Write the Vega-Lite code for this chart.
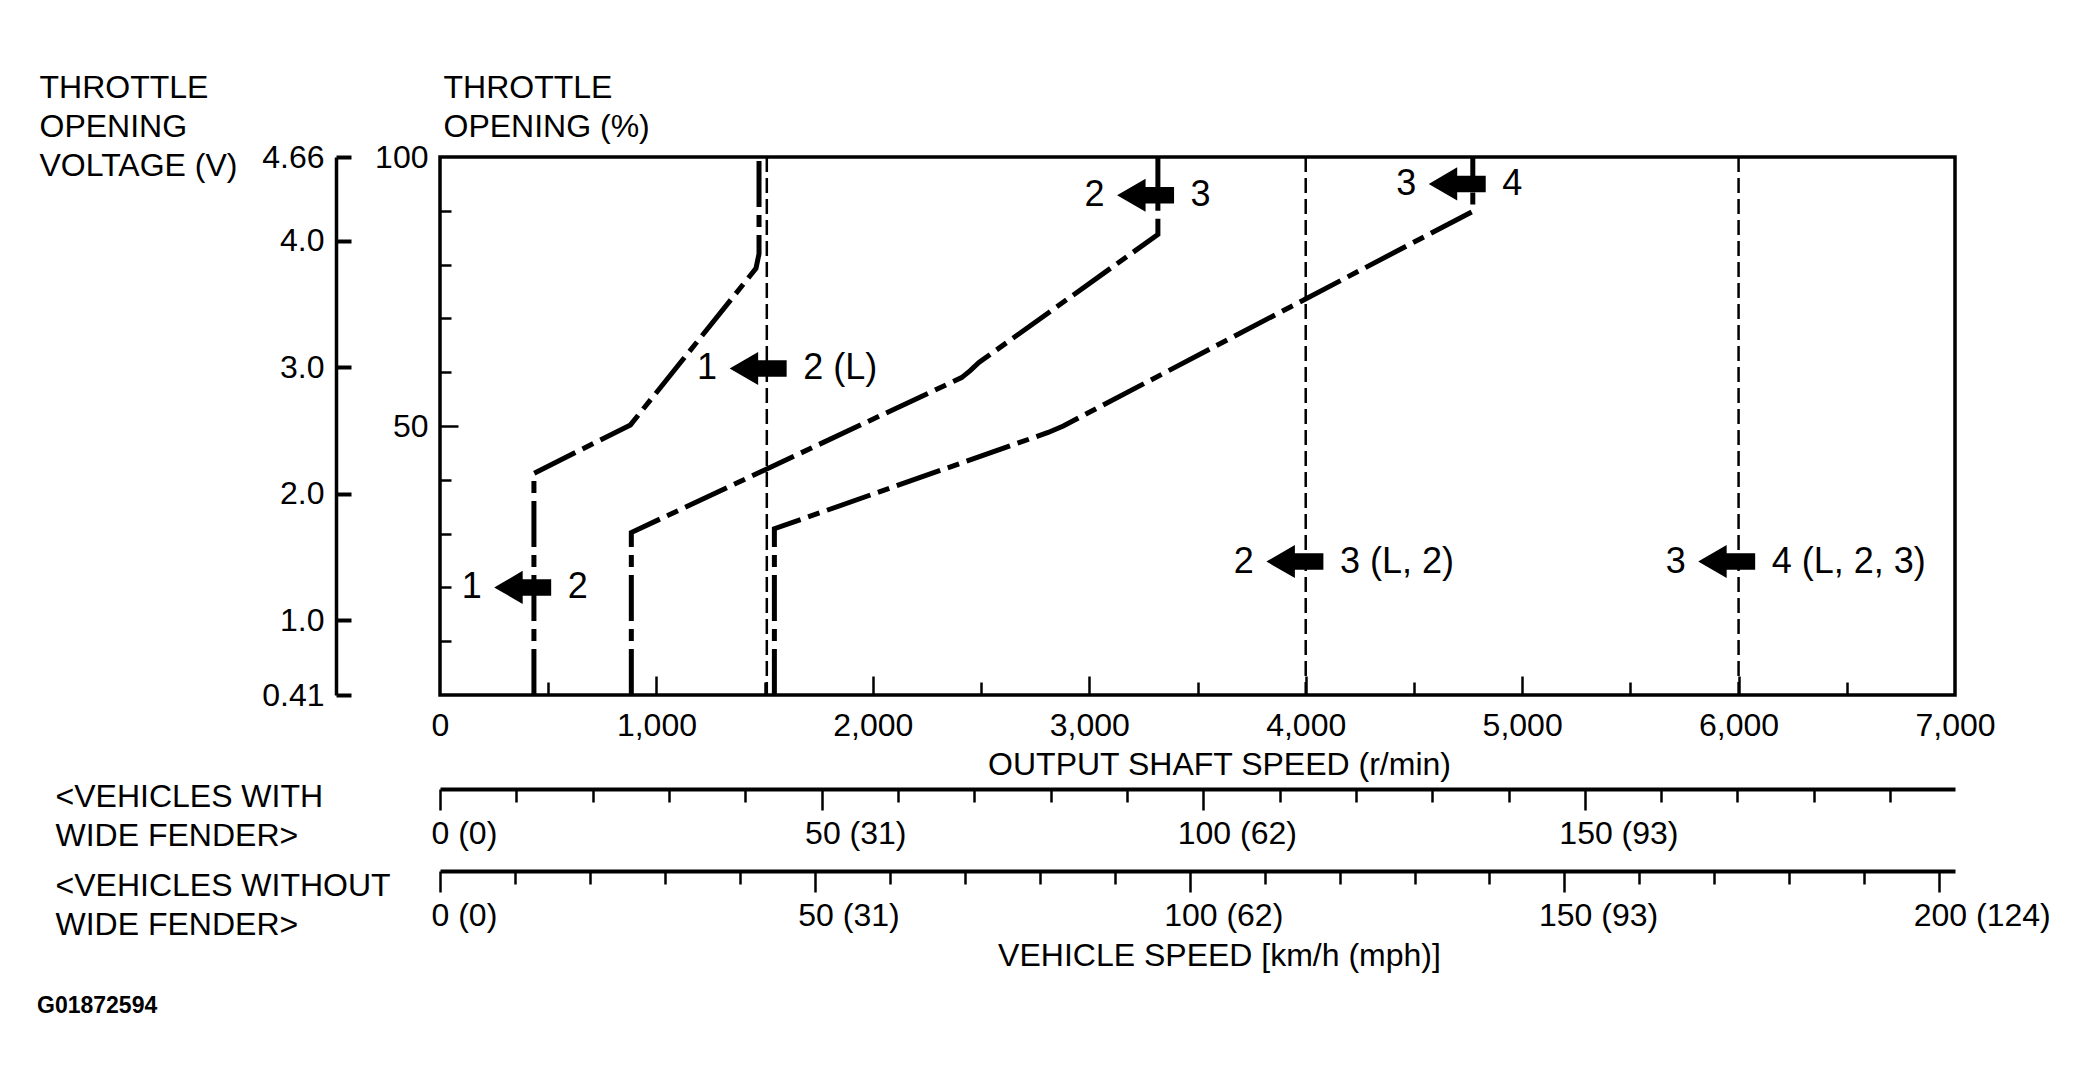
{
  "$schema": "https://vega.github.io/schema/vega-lite/v6.json",
  "width": 1515,
  "height": 538,
  "autosize": {"type": "none"},
  "padding": {"left": 440, "top": 157, "right": 130, "bottom": 397},
  "background": "white",
  "config": {
    "view": {"stroke": "black", "strokeWidth": 3.5},
    "font": "Liberation Sans",
    "axis": {"labelFont": "Liberation Sans", "titleFont": "Liberation Sans", "labelFontSize": 32, "titleFontSize": 32, "labelColor": "black", "titleColor": "black", "tickColor": "black", "domainColor": "black", "titleFontWeight": "normal", "grid": false, "labelFlush": false, "labelOverlap": false},
    "text": {"font": "Liberation Sans", "fontSize": 32, "color": "black"}
  },
  "title": {"text": "G01872594", "orient": "bottom", "anchor": "start", "frame": "group", "dx": -403, "offset": 24, "fontSize": 23, "fontWeight": "bold", "font": "Liberation Sans", "color": "black", "baseline": "top"},
  "datasets": {
    "shift_lines": [
      {"shift": "1-2", "seq": 1, "rpm": 434, "pct": 0},
      {"shift": "1-2", "seq": 2, "rpm": 434, "pct": 41.2},
      {"shift": "1-2", "seq": 3, "rpm": 880, "pct": 50.2},
      {"shift": "1-2", "seq": 4, "rpm": 1460, "pct": 79.3},
      {"shift": "1-2", "seq": 5, "rpm": 1474, "pct": 82},
      {"shift": "1-2", "seq": 6, "rpm": 1474, "pct": 100},
      {"shift": "2-3", "seq": 1, "rpm": 884, "pct": 0},
      {"shift": "2-3", "seq": 2, "rpm": 884, "pct": 30.2},
      {"shift": "2-3", "seq": 3, "rpm": 2410, "pct": 59},
      {"shift": "2-3", "seq": 4, "rpm": 2450, "pct": 60.3},
      {"shift": "2-3", "seq": 5, "rpm": 2490, "pct": 61.8},
      {"shift": "2-3", "seq": 6, "rpm": 3317, "pct": 85.6},
      {"shift": "2-3", "seq": 7, "rpm": 3317, "pct": 100},
      {"shift": "3-4", "seq": 1, "rpm": 1545, "pct": 0},
      {"shift": "3-4", "seq": 2, "rpm": 1545, "pct": 30.9},
      {"shift": "3-4", "seq": 3, "rpm": 2810, "pct": 48.8},
      {"shift": "3-4", "seq": 4, "rpm": 2880, "pct": 50},
      {"shift": "3-4", "seq": 5, "rpm": 2950, "pct": 51.5},
      {"shift": "3-4", "seq": 6, "rpm": 4772, "pct": 89.9},
      {"shift": "3-4", "seq": 7, "rpm": 4772, "pct": 100}
    ],
    "shift_marks": [
      {"lower": "1", "upper": "2", "rpm": 382, "pct": 20},
      {"lower": "1", "upper": "2 (L)", "rpm": 1470, "pct": 60.7},
      {"lower": "2", "upper": "3", "rpm": 3260, "pct": 92.9},
      {"lower": "3", "upper": "4", "rpm": 4700, "pct": 95},
      {"lower": "2", "upper": "3 (L, 2)", "rpm": 3950, "pct": 24.8},
      {"lower": "3", "upper": "4 (L, 2, 3)", "rpm": 5945, "pct": 24.8}
    ],
    "fixed_shift_speeds": [
      {"shift": "1-2 (L)", "rpm": 1510},
      {"shift": "2-3 (L, 2)", "rpm": 4000},
      {"shift": "3-4 (L, 2, 3)", "rpm": 6000}
    ],
    "throttle_sensor": [
      {"pct": 0, "volt": 0.41},
      {"pct": 100, "volt": 4.66}
    ],
    "vehicle_speed": [
      {"rpm": 0, "kmh_wide": 0, "kmh_std": 0},
      {"rpm": 7000, "kmh_wide": 198.5, "kmh_std": 202.1}
    ]
  },
  "layer": [
    {
      "data": {"name": "fixed_shift_speeds"},
      "mark": {"type": "rule", "stroke": "black", "strokeWidth": 2.5, "strokeDash": [15, 6]},
      "encoding": {
        "x": {"field": "rpm", "type": "quantitative", "scale": {"domain": [0, 7000], "nice": false}, "axis": null}
      }
    },
    {
      "data": {"name": "shift_lines"},
      "mark": {"type": "line", "stroke": "black", "strokeWidth": 5, "strokeDash": [46, 8, 12, 8]},
      "encoding": {
        "x": {"field": "rpm", "type": "quantitative", "scale": {"domain": [0, 7000], "nice": false},
          "axis": {"orient": "bottom", "values": [500, 1000, 1500, 2000, 2500, 3000, 3500, 4000, 4500, 5000, 5500, 6000, 6500], "labels": false, "domain": false, "title": null, "tickWidth": 2.5,
            "tickSize": {"condition": {"test": "datum.value % 1000 === 0", "value": -19}, "value": -13}}},
        "y": {"field": "pct", "type": "quantitative", "scale": {"domain": [0, 100], "nice": false},
          "axis": {"orient": "left", "values": [10, 20, 30, 40, 50, 60, 70, 80, 90], "labels": false, "domain": false, "title": null, "tickWidth": 2.5,
            "tickSize": {"condition": {"test": "datum.value === 50", "value": -18}, "value": -11}}},
        "detail": {"field": "shift", "type": "nominal"},
        "order": {"field": "seq", "type": "quantitative"}
      }
    },
    {
      "data": {"name": "shift_marks"},
      "mark": {"type": "point", "shape": "M-1,0L0,-0.58L0,-0.29L1,-0.29L1,0.29L0,0.29L0,0.58Z", "filled": true, "fill": "black", "strokeWidth": 0, "size": 3249, "opacity": 1},
      "encoding": {
        "x": {"field": "rpm", "type": "quantitative", "scale": {"domain": [0, 7000], "nice": false},
          "axis": {"orient": "bottom", "values": [0, 1000, 2000, 3000, 4000, 5000, 6000, 7000], "format": ",d", "ticks": false, "domain": false, "labelPadding": 15, "labelBaseline": "top",
            "title": "OUTPUT SHAFT SPEED (r/min)", "titleX": 779, "titleY": 79, "titleAlign": "center", "titleBaseline": "alphabetic"}},
        "y": {"field": "pct", "type": "quantitative", "scale": {"domain": [0, 100], "nice": false},
          "axis": {"orient": "left", "values": [50, 100], "ticks": false, "domain": false, "labelPadding": 12,
            "title": ["THROTTLE", "OPENING (%)"], "titleAngle": 0, "titleX": 3, "titleY": -85, "titleAlign": "left", "titleBaseline": "top", "titleLineHeight": 39}}
      }
    },
    {
      "data": {"name": "shift_marks"},
      "mark": {"type": "text", "align": "right", "baseline": "middle", "dx": -41, "fontSize": 36, "font": "Liberation Sans", "color": "black"},
      "encoding": {
        "x": {"field": "rpm", "type": "quantitative", "scale": {"domain": [0, 7000], "nice": false}, "axis": null},
        "y": {"field": "pct", "type": "quantitative", "scale": {"domain": [0, 100], "nice": false}, "axis": null},
        "text": {"field": "lower"}
      }
    },
    {
      "data": {"name": "shift_marks"},
      "mark": {"type": "text", "align": "left", "baseline": "middle", "dx": 45, "fontSize": 36, "font": "Liberation Sans", "color": "black"},
      "encoding": {
        "x": {"field": "rpm", "type": "quantitative", "scale": {"domain": [0, 7000], "nice": false}, "axis": null},
        "y": {"field": "pct", "type": "quantitative", "scale": {"domain": [0, 100], "nice": false}, "axis": null},
        "text": {"field": "upper"}
      }
    },
    {
      "data": {"name": "throttle_sensor"},
      "mark": {"type": "point", "opacity": 0},
      "encoding": {
        "y": {"field": "volt", "type": "quantitative", "scale": {"domain": [0.41, 4.66], "nice": false, "zero": false},
          "axis": {"orient": "left", "offset": 104, "values": [0.41, 1, 2, 3, 4, 4.66], "labels": false, "domain": false, "title": null, "tickSize": -15, "tickWidth": 4}}
      }
    },
    {
      "data": {"name": "throttle_sensor"},
      "mark": {"type": "point", "opacity": 0},
      "encoding": {
        "y": {"field": "volt", "type": "quantitative", "scale": {"domain": [0.41, 4.66], "nice": false, "zero": false},
          "axis": {"orient": "left", "offset": 104, "values": [0.41, 1, 2, 3, 4, 4.66], "ticks": false, "domain": true, "domainWidth": 3.5, "labelPadding": 12,
            "labelExpr": "datum.value === 0.41 || datum.value === 4.66 ? format(datum.value, '.2f') : format(datum.value, '.1f')",
            "title": ["THROTTLE", "OPENING", "VOLTAGE (V)"], "titleAngle": 0, "titleX": -297, "titleY": -85, "titleAlign": "left", "titleBaseline": "top", "titleLineHeight": 39}}
      }
    },
    {
      "data": {"name": "vehicle_speed"},
      "mark": {"type": "point", "opacity": 0},
      "encoding": {
        "x": {"field": "kmh_wide", "type": "quantitative", "scale": {"domain": [0, 198.5], "nice": false},
          "axis": {"orient": "bottom", "offset": 94, "values": [0, 10, 20, 30, 40, 50, 60, 70, 80, 90, 100, 110, 120, 130, 140, 150, 160, 170, 180, 190],
            "domainWidth": 4, "tickWidth": 2.5,
            "tickSize": {"condition": {"test": "datum.value % 50 === 0", "value": 21}, "value": 13},
            "labelExpr": "datum.value % 50 === 0 ? datum.value + ' (' + round(datum.value * 0.621371) + ')' : ''",
            "labelAlign": "left", "labelBaseline": "top", "labelPadding": 8,
            "labelOffset": {"condition": [{"test": "datum.value >= 100", "value": -26}, {"test": "datum.value >= 10", "value": -17}], "value": -9},
            "title": ["<VEHICLES WITH", "WIDE FENDER>"], "titleAngle": 0, "titleX": -385, "titleY": -8, "titleAlign": "left", "titleBaseline": "top", "titleLineHeight": 39}}
      }
    },
    {
      "data": {"name": "vehicle_speed"},
      "mark": {"type": "point", "opacity": 0},
      "encoding": {
        "x": {"field": "kmh_std", "type": "quantitative", "scale": {"domain": [0, 202.1], "nice": false},
          "axis": {"orient": "bottom", "offset": 176, "values": [0, 10, 20, 30, 40, 50, 60, 70, 80, 90, 100, 110, 120, 130, 140, 150, 160, 170, 180, 190, 200],
            "domainWidth": 4, "tickWidth": 2.5,
            "tickSize": {"condition": {"test": "datum.value % 50 === 0", "value": 21}, "value": 13},
            "labelExpr": "datum.value % 50 === 0 ? datum.value + ' (' + round(datum.value * 0.621371) + ')' : ''",
            "labelAlign": "left", "labelBaseline": "top", "labelPadding": 8,
            "labelOffset": {"condition": [{"test": "datum.value >= 100", "value": -26}, {"test": "datum.value >= 10", "value": -17}], "value": -9},
            "title": ["<VEHICLES WITHOUT", "WIDE FENDER>"], "titleAngle": 0, "titleX": -385, "titleY": -1, "titleAlign": "left", "titleBaseline": "top", "titleLineHeight": 39}}
      }
    },
    {
      "data": {"name": "vehicle_speed"},
      "mark": {"type": "point", "opacity": 0},
      "encoding": {
        "x": {"field": "kmh_std", "type": "quantitative", "scale": {"domain": [0, 202.1], "nice": false},
          "axis": {"orient": "bottom", "offset": 176, "ticks": false, "labels": false, "domain": false,
            "title": "VEHICLE SPEED [km/h (mph)]", "titleX": 779, "titleY": 94, "titleAlign": "center", "titleBaseline": "alphabetic"}}
      }
    }
  ],
  "resolve": {"scale": {"x": "independent", "y": "independent"}, "axis": {"x": "independent", "y": "independent"}}
}
